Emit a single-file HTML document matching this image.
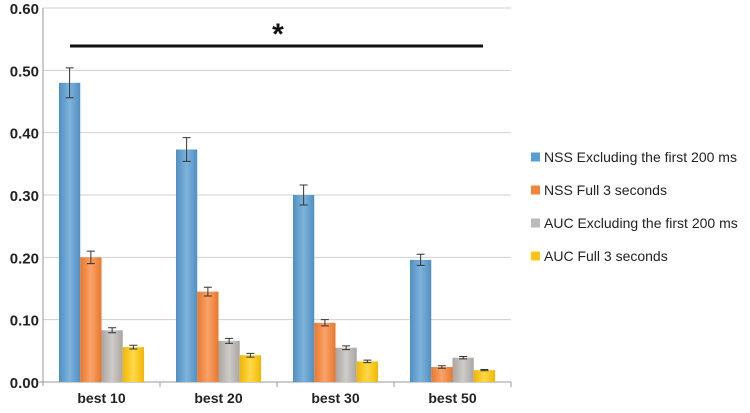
<!DOCTYPE html>
<html><head><meta charset="utf-8"><style>
body{margin:0;background:#fff;width:750px;height:408px;overflow:hidden}
svg text{font-family:"Liberation Sans",sans-serif}
</style></head><body>
<svg id="c" width="750" height="408">
<defs>
<linearGradient id="gb" x1="0" x2="1"><stop offset="0" stop-color="#4f8fc4"/><stop offset="0.5" stop-color="#7fb3da"/><stop offset="1" stop-color="#4f8fc4"/></linearGradient>
<linearGradient id="go" x1="0" x2="1"><stop offset="0" stop-color="#e8782c"/><stop offset="0.5" stop-color="#f9a36a"/><stop offset="1" stop-color="#e8782c"/></linearGradient>
<linearGradient id="gg" x1="0" x2="1"><stop offset="0" stop-color="#a9a5a3"/><stop offset="0.5" stop-color="#cfcbc8"/><stop offset="1" stop-color="#a9a5a3"/></linearGradient>
<linearGradient id="gy" x1="0" x2="1"><stop offset="0" stop-color="#f2b800"/><stop offset="0.5" stop-color="#ffd84a"/><stop offset="1" stop-color="#f2b800"/></linearGradient>
</defs>
</svg>
<script>
const categories=["best 10","best 20","best 30","best 50"];
const seriesNames=["NSS Excluding the first 200 ms","NSS Full 3 seconds","AUC Excluding the first 200 ms","AUC Full 3 seconds"];
const nssExcl=[0.48,0.373,0.30,0.196];
const nssFull=[0.20,0.145,0.095,0.024];
const aucExcl=[0.083,0.066,0.055,0.039];
const aucFull=[0.056,0.043,0.033,0.019];
const errNssExcl=[0.024,0.019,0.016,0.009];
const errNssFull=[0.01,0.007,0.005,0.002];
const errAucExcl=[0.004,0.004,0.003,0.002];
const errAucFull=[0.003,0.003,0.002,0.001];
const yTicks=[0,0.1,0.2,0.3,0.4,0.5,0.6];
const series=[nssExcl,nssFull,aucExcl,aucFull];
const errs=[errNssExcl,errNssFull,errAucExcl,errAucFull];
const fills=["url(#gb)","url(#go)","url(#gg)","url(#gy)"];
const legendCols=["#5a9bd0","#f2853a","#bdb9b6","#fcc419"];
const slugs=["nss-excl","nss-full","auc-excl","auc-full"];
const NS="http://www.w3.org/2000/svg";
const svg=document.getElementById('c');
const x0=43,x1=511,y0=382,y1=8;
const y=v=>y0-(v/0.6)*(y0-y1);
const cw=(x1-x0)/categories.length;
function el(t,a,p){const e=document.createElementNS(NS,t);for(const k in a)e.setAttribute(k,a[k]);(p||svg).appendChild(e);return e;}
yTicks.forEach(t=>{
 if(t>0){const g=el('line',{x1:x0,x2:x1,y1:y(t),y2:y(t),stroke:'#cfcfcf','stroke-width':1});
 
 }
 const l=el('text',{x:39,y:y(t)+6,'text-anchor':'end','font-size':15,'font-weight':'bold',fill:'#222'});
 l.textContent=t.toFixed(2);
 
 
});
const ax=el('line',{x1:x0,x2:x0,y1:y1,y2:y0+4,stroke:'#999'});


const bx=el('line',{x1:x0-4,x2:x1,y1:y0,y2:y0,stroke:'#999'});


categories.forEach((c,i)=>{
 const tk=el('line',{x1:x0+cw*(i+1),x2:x0+cw*(i+1),y1:y0,y2:y0+5,stroke:'#999'});
 
 
 const l=el('text',{x:x0+cw*i+cw/2,y:403,'text-anchor':'middle','font-size':14,'font-weight':'bold',fill:'#222'});
 l.textContent=c;
 
 
 series.forEach((s,j)=>{
  const bw=21.25,bxp=x0+cw*i+16+j*bw;
  const r=el('rect',{x:bxp,y:y(s[i]),width:bw,height:y0-y(s[i]),fill:fills[j]});
  
  
  const cx=bxp+bw/2,e=errs[j][i];
  const g=el('path',{d:`M${cx-4},${y(s[i]+e)}H${cx+4}M${cx},${y(s[i]+e)}V${y(s[i]-e)}M${cx-4},${y(s[i]-e)}H${cx+4}`,stroke:'#333','stroke-width':1,fill:'none'});
  
  
 });
});
const sl=el('line',{x1:70,x2:483,y1:46,y2:46,stroke:'#111','stroke-width':3});


const st=el('text',{x:278,y:44,'text-anchor':'middle','font-size':30,'font-weight':'bold',fill:'#111'});
st.textContent='*';


seriesNames.forEach((n,j)=>{
 const yy=157+j*33;
 const sq=el('rect',{x:531,y:yy-4.5,width:9,height:9,fill:legendCols[j]});
 
 
 const t=el('text',{x:544,y:yy+5,'font-size':14,fill:'#222'});
 t.textContent=n;
 
 
});
</script>
</body></html>
